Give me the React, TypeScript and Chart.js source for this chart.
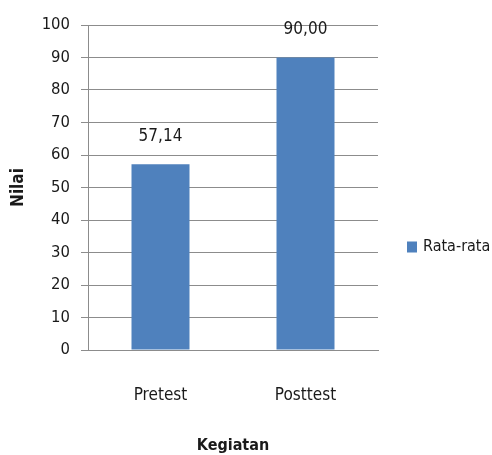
import React, { useEffect, useRef } from "react";
import { Chart, registerables } from "chart.js";

Chart.register(...registerables);

const categories = ["Pretest", "Posttest"];
const seriesLabel = "Rata-rata";
const values = [57.14, 90.0];
const yTitle = "Nilai";
const xTitle = "Kegiatan";
const yMin = 0;
const yMax = 100;
const yStep = 10;

const FONT = "'DejaVu Sans Condensed', 'DejaVu Sans', sans-serif";
const BAR = "#4F81BD";
const TEXT = "#1a1a1a";
const GRID = "#8c8c8c";

const valueLabels = {
  id: "valueLabels",
  afterDatasetsDraw(chart: any) {
    const ctx = chart.ctx;
    const meta = chart.getDatasetMeta(0);
    ctx.save();
    ctx.font = `17px ${FONT}`;
    ctx.fillStyle = TEXT;
    ctx.textAlign = "center";
    ctx.textBaseline = "middle";
    meta.data.forEach((el: any, i: number) => {
      const v = chart.data.datasets[0].data[i] as number;
      ctx.fillText(v.toFixed(2).replace(".", ","), el.x, el.y - 28);
    });
    ctx.restore();
  },
};

const sideLegend = {
  id: "sideLegend",
  afterDraw(chart: any) {
    const ctx = chart.ctx;
    const ds = chart.data.datasets[0];
    ctx.save();
    const y = 247;
    ctx.fillStyle = ds.backgroundColor;
    ctx.fillRect(407, y - 5.5, 10, 11);
    ctx.font = `16px ${FONT}`;
    ctx.fillStyle = TEXT;
    ctx.textAlign = "left";
    ctx.textBaseline = "middle";
    ctx.fillText(ds.label, 423, y);
    ctx.restore();
  },
};

export default function App() {
  const ref = useRef<HTMLCanvasElement>(null);
  useEffect(() => {
    document.body.style.margin = "0";
    const chart = new Chart(ref.current!, {
      type: "bar",
      data: {
        labels: categories,
        datasets: [
          {
            label: seriesLabel,
            data: values,
            backgroundColor: BAR,
            categoryPercentage: 1,
            barPercentage: 0.4,
          },
        ],
      },
      options: {
        responsive: false,
        animation: false,
        devicePixelRatio: 1,
        layout: { padding: { top: 25, right: 114, left: 0, bottom: 0 } },
        plugins: { legend: { display: false }, tooltip: { enabled: false } },
        scales: {
          x: {
            afterFit: (s: any) => {
              s.height = 105;
            },
            grid: { display: false, drawTicks: false },
            border: { display: true, color: GRID, width: 1 },
            ticks: { padding: 35, color: TEXT, font: { family: FONT, size: 17 } },
            title: {
              display: true,
              text: xTitle,
              color: TEXT,
              font: { family: FONT, size: 16, weight: "bold" },
              padding: { top: 0, bottom: 0 },
            },
          },
          y: {
            min: yMin,
            max: yMax,
            afterFit: (s: any) => {
              s.width = 88;
            },
            grid: { color: GRID, lineWidth: 1, tickLength: 7, drawTicks: true },
            border: { display: true, color: GRID, width: 1 },
            ticks: { stepSize: yStep, padding: 11, color: TEXT, font: { family: FONT, size: 16.5 } },
            title: {
              display: true,
              text: yTitle,
              color: TEXT,
              font: { family: FONT, size: 17, weight: "bold" },
              padding: { top: 8, bottom: 0 },
            },
          },
        },
      },
      plugins: [valueLabels, sideLegend],
    });
    return () => chart.destroy();
  }, []);
  return (
    <div style={{ width: 492, height: 455, background: "#fff" }}>
      <canvas ref={ref} width={492} height={455} style={{ display: "block" }} />
    </div>
  );
}
